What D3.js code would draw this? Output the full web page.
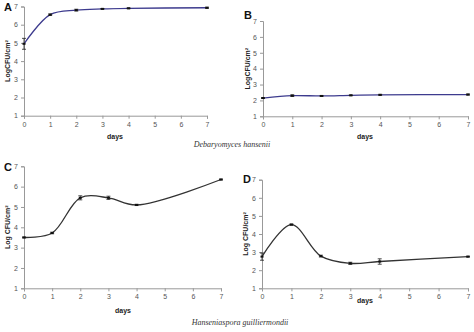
<!DOCTYPE html>
<html><head><meta charset="utf-8">
<script src="https://cdn.jsdelivr.net/npm/d3@7"></script>
<style>body{margin:0;background:#fff}svg{display:block}</style>
</head><body>
<script>
const days = [0, 1, 2, 3, 4, 7];
const xTicks = [0, 1, 2, 3, 4, 5, 6, 7];
const yTicks = [1, 2, 3, 4, 5, 6, 7];
const valuesA = [4.95, 6.55, 6.8, 6.87, 6.9, 6.93];
const errorsA = [0.3, 0.04, 0.05, 0.02, 0.02, 0.03];
const valuesB = [2.15, 2.3, 2.28, 2.32, 2.35, 2.37];
const errorsB = [0.03, 0.05, 0.03, 0.02, 0.03, 0.03];
const valuesC = [3.5, 3.72, 5.45, 5.45, 5.1, 6.35];
const errorsC = [0.02, 0.04, 0.1, 0.08, 0.03, 0.02];
const valuesD = [2.75, 4.52, 2.78, 2.38, 2.48, 2.75];
const errorsD = [0.2, 0.03, 0.05, 0.06, 0.15, 0.02];
const captions = ["Debaryomyces hansenii", "Hanseniaspora guilliermondii"];

const W = 474, H = 332;
const svg = d3.select("body").append("svg").attr("width", W).attr("height", H);

const panels = [
  {label:"A", vals:valuesA, errs:errorsA, color:"#3d3b8e", ylab:"LogCFU/cm²",
   x0:24, x1:207, yT:6.5, yB:115.7, lx:8, ly:11, ylx:8, dx:115, dy:139},
  {label:"B", vals:valuesB, errs:errorsB, color:"#3d3b8e", ylab:"LogCFU/cm²",
   x0:263, x1:468, yT:21, yB:116.3, lx:248, ly:19, ylx:248, dx:365, dy:139},
  {label:"C", vals:valuesC, errs:errorsC, color:"#333333", ylab:"Log CFU/cm²",
   x0:24, x1:221, yT:166.3, yB:288.3, lx:8, ly:171, ylx:8, dx:123, dy:313},
  {label:"D", vals:valuesD, errs:errorsD, color:"#333333", ylab:"Log CFU/cm²",
   x0:262, x1:468, yT:179.7, yB:288.3, lx:247, ly:183, ylx:246, dx:365, dy:303}
];

panels.forEach(p => {
  const x = d3.scaleLinear().domain([0, 7]).range([p.x0, p.x1]);
  const y = d3.scaleLinear().domain([1, 7]).range([p.yB, p.yT]);
  const g = svg.append("g");

  const xa = g.append("g").attr("transform", `translate(0,${p.yB})`)
    .call(d3.axisBottom(x).tickValues(xTicks).tickSize(3).tickPadding(3).tickFormat(d3.format("d")));
  const ya = g.append("g").attr("transform", `translate(${p.x0},0)`)
    .call(d3.axisLeft(y).tickValues(yTicks).tickSize(3).tickPadding(3).tickFormat(d3.format("d")));
  [xa, ya].forEach(a => {
    a.select(".domain").attr("stroke", "#999");
    a.selectAll(".tick line").attr("stroke", "#999");
    a.selectAll(".tick text").attr("fill", "#555").attr("font-size", 7)
      .attr("font-family", "Liberation Sans, Arial, sans-serif");
  });

  const pts = days.map((d, i) => ({d, v: p.vals[i], e: p.errs[i]}));
  const line = d3.line().x(d => x(d.d)).y(d => y(d.v)).curve(d3.curveCatmullRom.alpha(0.5));
  g.append("path").datum(pts).attr("d", line).attr("fill", "none")
    .attr("stroke", p.color).attr("stroke-width", 1.3);

  const eb = g.selectAll(".eb").data(pts).enter().append("g");
  eb.append("line").attr("x1", d => x(d.d)).attr("x2", d => x(d.d))
    .attr("y1", d => y(d.v - d.e)).attr("y2", d => y(d.v + d.e))
    .attr("stroke", "#222").attr("stroke-width", 0.8);
  eb.append("line").attr("x1", d => x(d.d) - 2).attr("x2", d => x(d.d) + 2)
    .attr("y1", d => y(d.v + d.e)).attr("y2", d => y(d.v + d.e))
    .attr("stroke", "#222").attr("stroke-width", 0.8);
  eb.append("line").attr("x1", d => x(d.d) - 2).attr("x2", d => x(d.d) + 2)
    .attr("y1", d => y(d.v - d.e)).attr("y2", d => y(d.v - d.e))
    .attr("stroke", "#222").attr("stroke-width", 0.8);
  eb.append("rect").attr("x", d => x(d.d) - 1.5).attr("y", d => y(d.v) - 1)
    .attr("width", 3).attr("height", 2).attr("fill", "#111");

  g.append("text").attr("x", p.lx).attr("y", p.ly).attr("text-anchor", "middle")
    .attr("font-size", 11).attr("font-weight", "bold").attr("fill", "#111")
    .attr("font-family", "Liberation Sans, Arial, sans-serif").text(p.label);
  g.append("text").attr("transform", `translate(${p.ylx},${(p.yT + p.yB) / 2}) rotate(-90)`)
    .attr("text-anchor", "middle").attr("dy", "0.35em")
    .attr("font-size", 7).attr("font-weight", "bold").attr("fill", "#222")
    .attr("font-family", "Liberation Sans, Arial, sans-serif").text(p.ylab);
  g.append("text").attr("x", p.dx).attr("y", p.dy).attr("text-anchor", "middle")
    .attr("font-size", 7).attr("font-weight", "bold").attr("fill", "#222")
    .attr("font-family", "Liberation Sans, Arial, sans-serif").text("days");
});

svg.append("text").attr("x", 232).attr("y", 147).attr("text-anchor", "middle")
  .attr("font-size", 8).attr("font-style", "italic").attr("fill", "#333")
  .attr("font-family", "Liberation Serif, Times New Roman, serif").text(captions[0]);
svg.append("text").attr("x", 240).attr("y", 325).attr("text-anchor", "middle")
  .attr("font-size", 8).attr("font-style", "italic").attr("fill", "#333")
  .attr("font-family", "Liberation Serif, Times New Roman, serif").text(captions[1]);
</script>
</body></html>
